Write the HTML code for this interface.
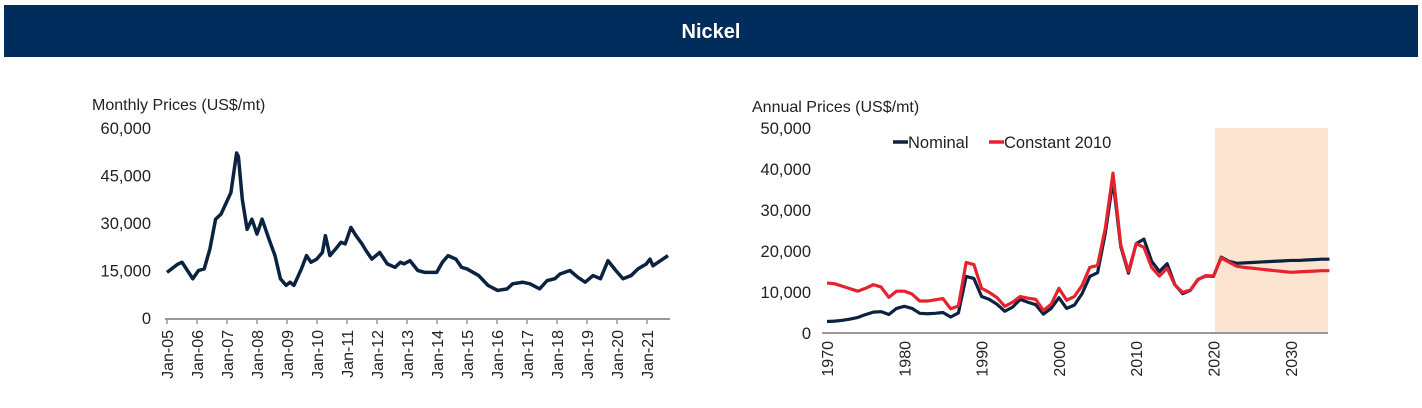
<!DOCTYPE html>
<html><head><meta charset="utf-8"><style>
body{margin:0;background:#fff;width:1422px;height:408px;overflow:hidden}
svg{display:block;font-family:"Liberation Sans",Arial,sans-serif}
</style></head><body>
<svg id="s" width="1422" height="408">
<rect x="4" y="5" width="1414" height="52" fill="#002d5c"/>
<text x="711" y="38" text-anchor="middle" fill="#fff" font-size="20" font-weight="bold">Nickel</text>
<text x="92" y="110" font-size="16" fill="#222">Monthly Prices (US$/mt)</text>
<text x="752" y="112" font-size="16" fill="#222">Annual Prices (US$/mt)</text>
<g id="L"></g><g id="R"></g>
</svg>
<script>
const monthlyT=[0,0.36,0.5,0.86,1.05,1.24,1.43,1.62,1.8,2.13,2.32,2.38,2.51,2.67,2.83,3.0,3.17,3.4,3.6,3.78,3.97,4.1,4.23,4.48,4.65,4.8,4.99,5.18,5.28,5.43,5.62,5.8,5.94,6.13,6.3,6.5,6.64,6.83,7.09,7.34,7.6,7.78,7.9,8.1,8.36,8.6,8.99,9.18,9.37,9.63,9.82,10.0,10.39,10.7,11.02,11.34,11.52,11.85,12.1,12.42,12.67,12.93,13.1,13.43,13.69,13.94,14.2,14.45,14.7,14.96,15.2,15.47,15.7,15.97,16.1,16.2,16.45,16.7];
const monthlyV=[14.4,17,17.6,12.4,15,15.5,21.8,31.2,32.8,39.6,52.1,51,37.5,28,31.2,26.5,31.2,24.9,19.7,12.4,10.3,11.3,10.3,15.5,19.7,17.6,18.6,20.7,26,19.7,21.8,23.9,23.4,28.6,26,23.4,21.2,18.6,20.7,17.1,16,17.6,17.1,18.1,15,14.4,14.4,17.6,19.7,18.6,16,15.5,13.4,10.3,8.7,9.2,10.8,11.3,10.8,9.2,11.8,12.4,13.9,15,12.9,11.3,13.4,12.4,18.1,15,12.4,13.4,15.5,17,18.6,16.5,18.1,19.7];
const leftTicks=["Jan-05","Jan-06","Jan-07","Jan-08","Jan-09","Jan-10","Jan-11","Jan-12","Jan-13","Jan-14","Jan-15","Jan-16","Jan-17","Jan-18","Jan-19","Jan-20","Jan-21"];
const leftY=[0,15000,30000,45000,60000];
const years=[];for(let y=1970;y<=2035;y++)years.push(y);
const nominal=[2.8,2.9,3.1,3.4,3.8,4.5,5.1,5.2,4.5,6.0,6.5,6.0,4.8,4.7,4.8,5.0,3.9,4.9,13.8,13.3,8.9,8.2,7.0,5.3,6.3,8.2,7.5,6.9,4.6,6.0,8.6,6.0,6.8,9.6,13.8,14.7,24.3,37.2,21.1,14.6,21.8,22.9,17.5,15.0,16.9,11.8,9.6,10.4,13.1,13.9,13.8,18.5,17.5,17.0,17.1,17.2,17.3,17.4,17.5,17.6,17.7,17.7,17.8,17.9,18.0,18.0];
const constant2010=[12.2,12.0,11.4,10.8,10.2,10.9,11.8,11.2,8.7,10.2,10.2,9.5,7.8,7.8,8.1,8.4,5.9,6.6,17.2,16.7,10.9,9.9,8.6,6.5,7.5,8.9,8.5,8.2,5.5,7.0,10.9,8.0,8.9,11.6,16.0,16.5,25.5,39.0,21.5,15.0,21.8,20.9,16.0,13.9,15.8,11.7,9.9,10.5,13.0,14.0,13.9,18.3,17.3,16.3,16.0,15.8,15.6,15.4,15.2,15.0,14.8,14.9,15.0,15.1,15.2,15.2];
const rightTicks=[1970,1980,1990,2000,2010,2020,2030];
const rightY=[0,10000,20000,30000,40000,50000];
const NS="http://www.w3.org/2000/svg";
function mk(p,t,a){const e=document.createElementNS(NS,t);for(const k in a)e.setAttribute(k,a[k]);p.appendChild(e);return e;}
// left
const L=document.getElementById('L');
const lx=t=>167+t*30.0, ly=v=>318-v/60000*190;
leftY.forEach(v=>{const t=mk(L,'text',{x:151,y:ly(v)+6,'text-anchor':'end','font-size':16.5,fill:'#222'});t.textContent=v.toLocaleString('en-US');

});
const la=mk(L,'line',{x1:165,y1:319,x2:670,y2:319,stroke:'#999','stroke-width':2});


leftTicks.forEach((s,i)=>{const x=lx(i);mk(L,'line',{x1:x,y1:319,x2:x,y2:324,stroke:'#999','stroke-width':1.5});
const t=mk(L,'text',{x:0,y:0,transform:`translate(${x+6},330) rotate(-90)`,'text-anchor':'end','font-size':16,fill:'#222'});t.textContent=s;

});
const lp=mk(L,'polyline',{points:monthlyT.map((t,i)=>lx(t)+','+ly(monthlyV[i]*1000)).join(' '),fill:'none',stroke:'#0b2240','stroke-width':3.5,'stroke-linejoin':'round'});


// right
const R=document.getElementById('R');
const rx=y=>827+(y-1970)*7.73, ry=v=>333-v/50000*205;
const sh=mk(R,'rect',{x:rx(2020.2),y:ry(50000),width:1328-rx(2020.2),height:333-ry(50000),fill:'#fbe5d0'});


rightY.forEach(v=>{const t=mk(R,'text',{x:811,y:ry(v)+6,'text-anchor':'end','font-size':16.5,fill:'#222'});t.textContent=v.toLocaleString('en-US');

});
const ra=mk(R,'line',{x1:822,y1:333,x2:1328,y2:333,stroke:'#999','stroke-width':2});


rightTicks.forEach(y=>{const x=rx(y);const t=mk(R,'text',{x:0,y:0,transform:`translate(${x+6},341) rotate(-90)`,'text-anchor':'end','font-size':16,fill:'#222'});t.textContent=y;

});
const pn=mk(R,'polyline',{points:years.map((y,i)=>rx(y)+','+ry(nominal[i]*1000)).join(' '),fill:'none',stroke:'#0b2240','stroke-width':3.2,'stroke-linejoin':'round'});


const pc=mk(R,'polyline',{points:years.map((y,i)=>rx(y)+','+ry(constant2010[i]*1000)).join(' '),fill:'none',stroke:'#e8212e','stroke-width':3.2,'stroke-linejoin':'round'});


// legend
const g1=mk(R,'g',{});


mk(g1,'line',{x1:893,y1:142,x2:908,y2:142,stroke:'#0b2240','stroke-width':3.5});
mk(g1,'text',{x:908,y:148,'font-size':16.5,fill:'#222'}).textContent='Nominal';
const g2=mk(R,'g',{});


mk(g2,'line',{x1:989,y1:142,x2:1004,y2:142,stroke:'#e8212e','stroke-width':3.5});
mk(g2,'text',{x:1004,y:148,'font-size':16.5,fill:'#222'}).textContent='Constant 2010';
</script>
</body></html>
